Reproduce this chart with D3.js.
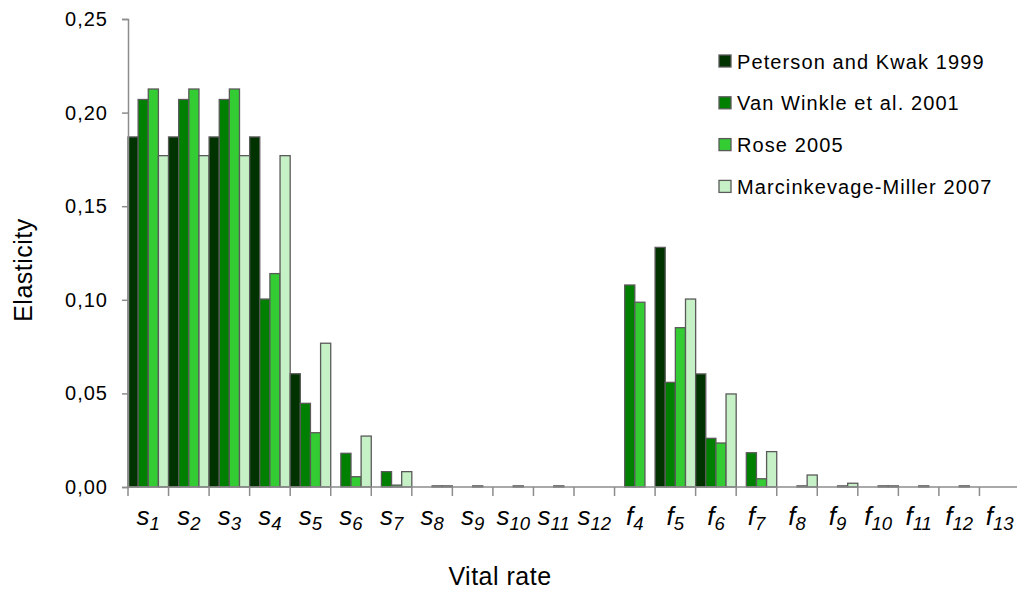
<!DOCTYPE html>
<html>
<head>
<meta charset="utf-8">
<script src="https://cdn.jsdelivr.net/npm/d3@7"></script>
<style>
  body { margin: 0; background: #fff; }
  text { font-family: "Liberation Sans", Arial, sans-serif; fill: #000; }
</style>
</head>
<body>
<svg id="chart" width="1017" height="589"></svg>
<script>
// vital rates (letter + subscript)
var categories = ["s1","s2","s3","s4","s5","s6","s7","s8","s9","s10","s11","s12",
                  "f4","f5","f6","f7","f8","f9","f10","f11","f12","f13"];
var seriesNames = ["Peterson and Kwak 1999","Van Winkle et al. 2001","Rose 2005","Marcinkevage-Miller 2007"];
var peterson    = [0.187,0.187,0.187,0.187,0.0605,0,0,0,0,0,0,0, 0,0.128,0.0604,0,0,0,0,0,0,0];
var vanWinkle   = [0.207,0.207,0.207,0.1004,0.0447,0.018,0.0082,0,0,0,0,0, 0.1079,0.0559,0.026,0.0183,0,0,0,0,0,0];
var rose        = [0.2126,0.2126,0.2126,0.114,0.029,0.0055,0.001,0.0006,0.0006,0.0006,0.0006,0,
                   0.0987,0.0851,0.0235,0.0044,0.0006,0.0006,0.0006,0.0006,0.0006,0];
var marcinkevage= [0.177,0.177,0.177,0.177,0.0768,0.0272,0.0082,0.0006,0,0,0,0,
                   0,0.1004,0.0497,0.0189,0.0064,0.002,0.0006,0,0,0];
var yTicks = [0, 0.05, 0.10, 0.15, 0.20, 0.25];
var colors = ["#003300","#008000","#33cc33","#c6f1c6"];

var allSeries = [peterson, vanWinkle, rose, marcinkevage];
var svg = d3.select("#chart");

var x = d3.scaleBand().domain(categories).range([128, 1020]).padding(0);
var xs = d3.scaleBand().domain(d3.range(4)).range([0, x.bandwidth()]).padding(0);
var y = d3.scaleLinear().domain([0, 0.25]).range([487, 19]);

// bars
var groups = svg.append("g").selectAll("g")
  .data(categories).enter().append("g")
  .attr("transform", function(d){ return "translate(" + x(d) + ",0)"; });

groups.selectAll("rect")
  .data(function(d, i){ return allSeries.map(function(s, k){ return {k: k, v: s[i]}; }).filter(function(e){ return e.v > 0; }); })
  .enter().append("rect")
  .attr("x", function(d){ return xs(d.k); })
  .attr("width", xs.bandwidth())
  .attr("y", function(d){ return y(d.v); })
  .attr("height", function(d){ return y(0) - y(d.v); })
  .attr("fill", function(d){ return colors[d.k]; })
  .attr("stroke", "#5a5a5a")
  .attr("stroke-width", 1.3);

// y axis
var yAxis = d3.axisLeft(y).tickValues(yTicks).tickSize(6).tickPadding(14)
  .tickFormat(function(d){ return d3.format(".2f")(d).replace(".", ","); });
var gy = svg.append("g").attr("transform", "translate(128,0)").call(yAxis);
gy.select(".domain").attr("stroke", "#8c8c8c").attr("stroke-width", 1.5);
gy.selectAll(".tick line").attr("stroke", "#8c8c8c").attr("stroke-width", 1.5);
gy.selectAll(".tick text").attr("font-size", 20).attr("letter-spacing", 1)
  .attr("font-family", "Liberation Sans, Arial, sans-serif").attr("fill", "#000");

// x axis line + ticks at category boundaries
svg.append("line").attr("x1", 128).attr("x2", 1020).attr("y1", y(0)).attr("y2", y(0))
  .attr("stroke", "#8c8c8c").attr("stroke-width", 1.5);
svg.append("g").selectAll("line")
  .data(categories.concat(["end"])).enter().append("line")
  .attr("x1", function(d, i){ return 128 + i * x.bandwidth(); })
  .attr("x2", function(d, i){ return 128 + i * x.bandwidth(); })
  .attr("y1", y(0)).attr("y2", y(0) + 9)
  .attr("stroke", "#8c8c8c").attr("stroke-width", 1.5);

// x tick labels: italic letter with subscript
var lbl = svg.append("g").selectAll("text")
  .data(categories).enter().append("text")
  .attr("x", function(d){ return x(d) + x.bandwidth() / 2; })
  .attr("y", 525)
  .attr("text-anchor", "middle")
  .attr("font-style", "italic");
lbl.append("tspan").attr("font-size", 26).text(function(d){ return d[0]; });
lbl.append("tspan").attr("font-size", 18.5).attr("dy", 5).text(function(d){ return d.slice(1); });

// axis titles
svg.append("text").attr("transform", "translate(32,270) rotate(-90)")
  .attr("text-anchor", "middle").attr("font-size", 25).attr("letter-spacing", 0.5).text("Elasticity");
svg.append("text").attr("x", 500).attr("y", 585)
  .attr("text-anchor", "middle").attr("font-size", 25).attr("letter-spacing", 0.5).text("Vital rate");

// legend
var leg = svg.append("g").selectAll("g")
  .data(seriesNames).enter().append("g")
  .attr("transform", function(d, i){ return "translate(719," + (55 + i * 41.8) + ")"; });
leg.append("rect").attr("width", 12).attr("height", 12)
  .attr("fill", function(d, i){ return colors[i]; })
  .attr("stroke", "#5a5a5a").attr("stroke-width", 1.3);
leg.append("text").attr("x", 18).attr("y", 13.5).attr("font-size", 20)
  .attr("letter-spacing", 1.1).text(function(d){ return d; });
</script>
</body>
</html>
